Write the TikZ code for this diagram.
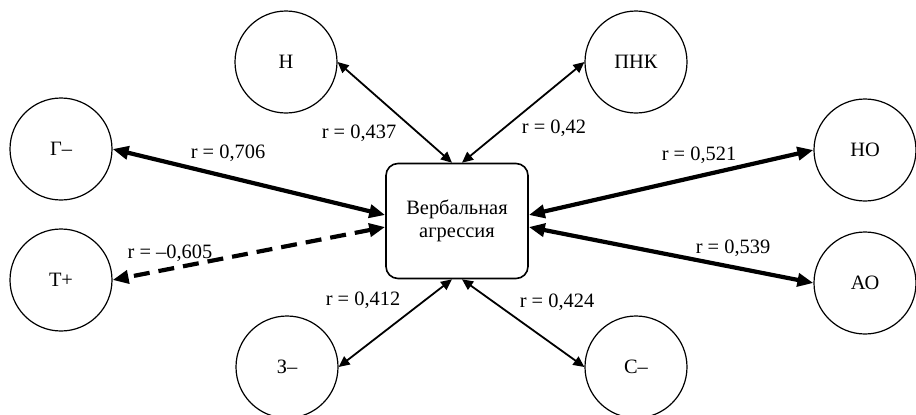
\documentclass[tikz,border=0pt]{standalone}
\usepackage{fontspec}
\setmainfont{Liberation Serif}
\usetikzlibrary{arrows.meta}

\begin{document}
\begin{tikzpicture}
[x=0.5pt,y=-0.5pt,%
  every node/.style={font=\fontsize{10.2}{11.5}\selectfont},%
  factor/.style={shape=circle,draw,line width=0.6pt,minimum size=51pt,inner sep=0pt},%
  weak/.style={{Triangle[length=5.5pt,width=5pt]}-{Triangle[length=5.5pt,width=5pt]},line width=0.9pt},%
  strong/.style={{Triangle[length=8pt,width=6.5pt]}-{Triangle[length=8pt,width=6.5pt]},line width=2.1pt}]
\useasboundingbox (0,0) rectangle (916,414);
\node[draw,line width=0.8pt,rounded corners=6pt,minimum width=71pt,minimum height=57.5pt,align=center]
  (va) at (457,221) {Вербальная\\агрессия};
\node[factor] (n) at (286,62) {Н};
\node[factor] (pnk) at (636,62) {ПНК};
\node[factor] (gm) at (61,149) {Г–};
\node[factor] (tp) at (61,280) {Т+};
\node[factor] (no) at (865,150) {НО};
\node[factor] (ao) at (865,283) {АО};
\node[factor] (zm) at (287,367) {З–};
\node[factor] (sm) at (636,367) {С–};
% connectors
\draw[weak] ([xshift=-2.5pt]va.north) -- (n.east);
\draw[weak] ([xshift=2.5pt]va.north) -- (pnk.west);
\draw[weak] ([xshift=-2.5pt]va.south) -- (zm.east);
\draw[weak] ([xshift=2.5pt]va.south) -- (sm.west);
\draw[strong] ([yshift=3pt]va.west) -- (gm.east);
\draw[strong,dash pattern=on 8pt off 4.5pt] ([yshift=-3pt]va.west) -- (tp.east);
\draw[strong] ([yshift=3pt]va.east) -- (no.west);
\draw[strong] ([yshift=-3pt]va.east) -- (ao.west);
% labels
\node (l706) at (228,153) {r = 0,706};
\node (l437) at (359,133) {r = 0,437};
\node (l605) at (170,253) {r = –0,605};
\node (l412) at (363,300) {r = 0,412};
\node (l42) at (554,128) {r = 0,42};
\node (l521) at (699,155) {r = 0,521};
\node (l539) at (733,248) {r = 0,539};
\node (l424) at (557,302) {r = 0,424};
\end{tikzpicture}
\end{document}
